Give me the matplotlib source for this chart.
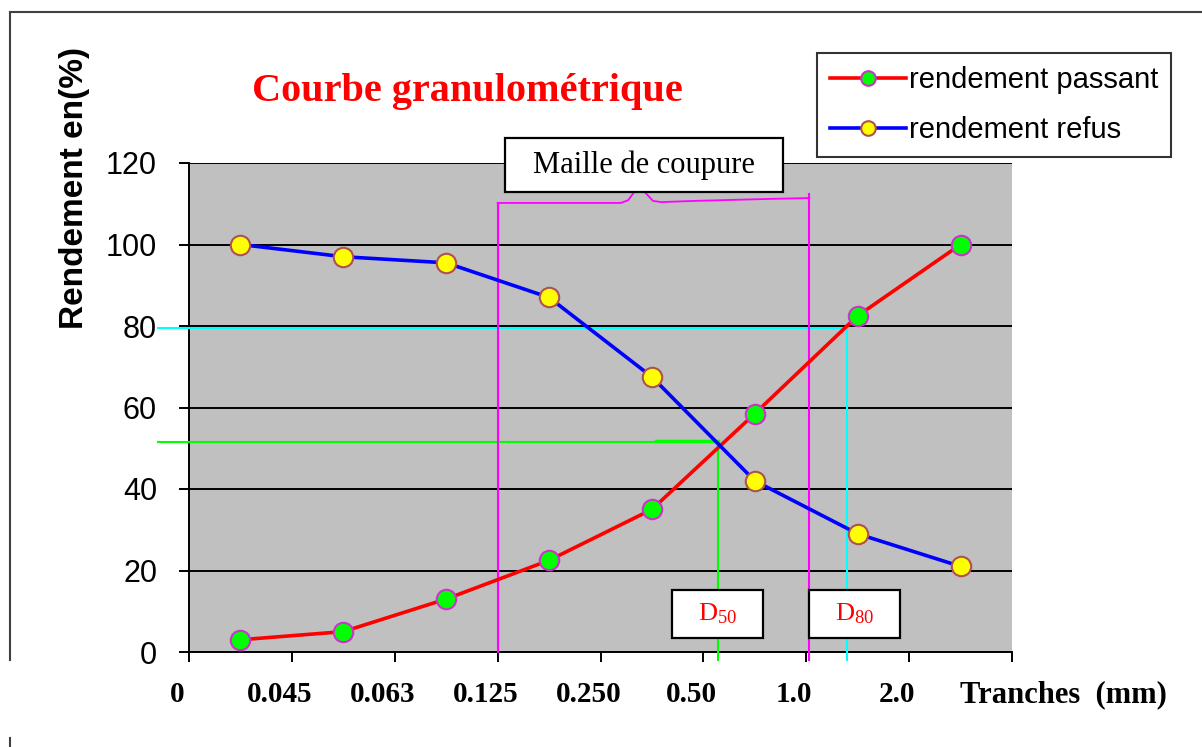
# courbe granulometrique: passant / refus with D50, D80 and maille de coupure
import numpy as np
import matplotlib
matplotlib.use('agg')
import matplotlib.pyplot as plt
from matplotlib.lines import Line2D
from matplotlib.patches import Rectangle
from matplotlib.transforms import ScaledTranslation

tranches = ['0', '0.045', '0.063', '0.125', '0.250', '0.50', '1.0', '2.0']
passant = [3, 5, 13, 22.5, 35, 58.5, 82.5, 100]
refus = [100, 97, 95.5, 87, 67.5, 42, 29, 21]
yticks = [0, 20, 40, 60, 80, 100, 120]

W, H = 1202, 747
plt.rcParams['mathtext.fontset'] = 'stix'

def px(x, y):
	# pixel position -> figure fraction
	return x / W, 1 - y / H

fig = plt.figure(figsize=(W / 100, H / 100), dpi=100)
ax = fig.add_axes([189 / W, 1 - 652 / H, (1012 - 189) / W, (652 - 163) / H])
ax.set_facecolor('#C0C0C0')

xs = np.arange(len(passant)) + 0.5
ax.plot(xs, passant, '-', color='#FF0000', lw=2.6, marker='o', ms=14,
	mfc='#00FF00', mec='#CC33CC', mew=1.5, label='rendement passant', zorder=5)
ax.plot(xs, refus, '-', color='#0000FF', lw=2.6, marker='o', ms=14,
	mfc='#FFFF00', mec='#B05050', mew=1.5, label='rendement refus', zorder=5)

ax.set_xlim(0, len(tranches))
ax.set_ylim(0, 120)
ax.set_yticks(yticks)
ax.yaxis.grid(True, color='black', lw=1.4)
ax.set_axisbelow(True)
for s in ['top', 'right']:
	ax.spines[s].set_visible(False)
ax.spines['left'].set_linewidth(1.4)
ax.spines['bottom'].set_linewidth(1.4)
ax.tick_params(axis='y', length=7, width=1.4, pad=16, labelsize=22)
ax.tick_params(axis='x', length=7, width=1.4, pad=14)
for lbl in ax.get_yticklabels():
	lbl.set_fontfamily('Liberation Sans')
ax.set_xticks(range(len(tranches) + 1))
ax.set_xticklabels(tranches + [''], fontfamily='Liberation Serif', fontweight='bold', fontsize=21)
for lbl in ax.get_xticklabels():
	lbl.set_transform(lbl.get_transform() + ScaledTranslation(-0.12, 0, fig.dpi_scale_trans))
ax.text(len(tranches) + 0.5, -0.057, 'Tranches  (mm)', transform=ax.get_xaxis_transform(),
	ha='center', va='top', fontfamily='Liberation Serif', fontweight='bold', fontsize=22)

# D50 / D80
d50 = np.interp(50, passant, xs)
d80 = np.interp(80, passant, xs)
ax.plot([-0.3, d80], [79.5, 79.5], color='#00FFFF', lw=1.5, clip_on=False, zorder=3)
ax.plot([d80, d80], [79.5, -2], color='#00FFFF', lw=1.5, clip_on=False, zorder=3)
ax.plot([-0.3, d50], [51.5, 51.5], color='#00FF00', lw=1.5, clip_on=False, zorder=3)
ax.plot([d50 - 0.6, d50], [51.9, 51.9], color='#00FF00', lw=2.5, zorder=3)
ax.plot([d50, d50], [51.5, -2], color='#00FF00', lw=1.5, clip_on=False, zorder=3)

# maille de coupure between 0.125 and 1.0
c1, c2 = 3.0, 6.03
ax.plot([c1, c1], [110.2, 0], color='#FF00FF', lw=1.5, clip_on=False, zorder=3)
ax.plot([c2, c2], [112.5, -2], color='#FF00FF', lw=1.5, clip_on=False, zorder=3)
bx = [c1, c1 + 1.2, c1 + 1.27, c1 + 1.32]
by = [110.2, 110.2, 110.9, 112.6]
ax.plot(bx, by, color='#FF00FF', lw=1.3, clip_on=False, zorder=3)
bx = [c1 + 1.44, c1 + 1.51, c1 + 1.59, c1 + 1.91, c1 + 2.66, c2]
by = [112.6, 110.7, 110.4, 110.7, 111.2, 111.4]
ax.plot(bx, by, color='#FF00FF', lw=1.3, clip_on=False, zorder=3)

# boxes
def box(x0, y0, x1, y1, txt, **kw):
	fx0, fy1 = px(x0, y0)
	fx1, fy0 = px(x1, y1)
	fig.patches.append(Rectangle((fx0, fy0), fx1 - fx0, fy1 - fy0, transform=fig.transFigure,
		facecolor='white', edgecolor='black', lw=1.6, zorder=10))
	fig.text((fx0 + fx1) / 2, (fy0 + fy1) / 2, txt, ha='center', va='center', zorder=11,
		fontfamily='Liberation Serif', **kw)

box(505, 138, 783, 192, 'Maille de coupure', fontsize=22)
box(672, 590, 763, 638, r'D$_{\mathregular{50}}$', fontsize=19, color='red')
box(809, 590, 900, 638, r'D$_{\mathregular{80}}$', fontsize=19, color='red')

# titles
fig.text(*px(467, 92), 'Courbe granulométrique', ha='center', va='center', color='red',
	fontfamily='Liberation Serif', fontweight='bold', fontsize=29)
fig.text(*px(75, 188), 'Rendement en(%)', ha='center', va='center', rotation=90,
	fontfamily='Liberation Sans', fontweight='bold', fontsize=24)

leg = ax.legend(loc='upper left', bbox_to_anchor=px(817, 53), bbox_transform=fig.transFigure,
	prop={'family': 'Liberation Sans', 'size': 21}, frameon=True, fancybox=False,
	edgecolor='black', handlelength=2.6, handletextpad=0.1, borderpad=0.45, labelspacing=0.75,
	borderaxespad=0, markerscale=0.75)
leg.get_frame().set_linewidth(1.5)

# outer frame
fig.add_artist(Line2D([10 / W, 10 / W], [1 - 12 / H, 1 - 660 / H], color='#404040', lw=1.5))
fig.add_artist(Line2D([10 / W, 1], [1 - 12 / H, 1 - 12 / H], color='#404040', lw=1.5))
fig.add_artist(Line2D([10 / W, 10 / W], [1 - 738 / H, 0], color='#404040', lw=1.5))

fig.savefig('out.png', dpi=100)
